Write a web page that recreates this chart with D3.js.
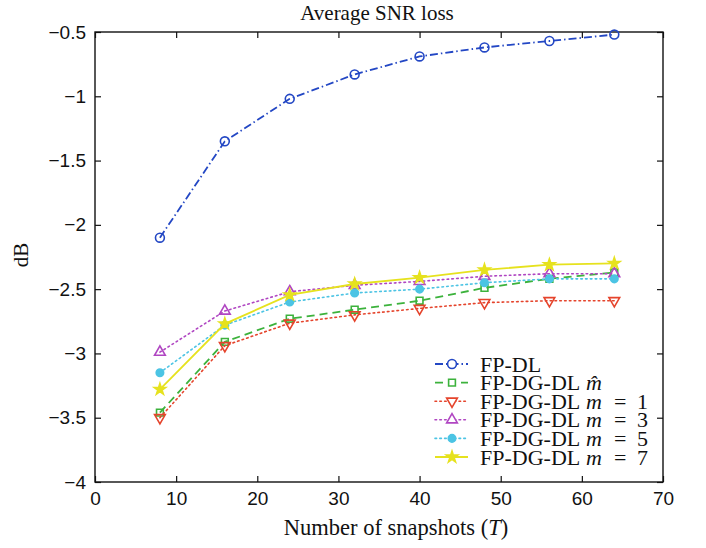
<!DOCTYPE html>
<html>
<head>
<meta charset="utf-8">
<script src="https://cdn.jsdelivr.net/npm/d3@7"></script>
<style>
  html, body { margin: 0; padding: 0; background: #fff; }
  svg { display: block; }
</style>
</head>
<body>
<svg id="chart" width="706" height="548"></svg>
<script>
// Number of snapshots T
const snapshots = [8, 16, 24, 32, 40, 48, 56, 64];

// Average SNR loss (dB) per method
const fpDL      = [-2.10, -1.35, -1.02, -0.83, -0.69, -0.62, -0.57, -0.52];
const fpDGDLhat = [-3.46, -2.91, -2.73, -2.66, -2.59, -2.49, -2.42, -2.37];
const fpDGDLm1  = [-3.50, -2.94, -2.765, -2.70, -2.65, -2.605, -2.59, -2.59];
const fpDGDLm3  = [-2.99, -2.67, -2.52, -2.47, -2.44, -2.40, -2.38, -2.38];
const fpDGDLm5  = [-3.15, -2.78, -2.60, -2.53, -2.50, -2.45, -2.42, -2.42];
const fpDGDLm7  = [-3.28, -2.77, -2.545, -2.46, -2.41, -2.35, -2.31, -2.30];

const xTicks = [0, 10, 20, 30, 40, 50, 60, 70];
const yTicks = [-4, -3.5, -3, -2.5, -2, -1.5, -1, -0.5];

const titleText = "Average SNR loss";
const xLabel = "Number of snapshots";
const xLabelVar = "T";
const yLabel = "dB";

const seriesNames = ["FP-DL", "FP-DG-DL", "FP-DG-DL", "FP-DG-DL", "FP-DG-DL", "FP-DG-DL"];
const seriesMath  = [null, "hat", "1", "3", "5", "7"];

const series = [
  { values: fpDL,      color: "#2347c4", dash: "8,3,1.5,3", width: 1.8, symbol: d3.symbolCircle,   size: 62, fill: "none", rotate: 0 },
  { values: fpDGDLhat, color: "#3cb23c", dash: "8,5",       width: 1.8, symbol: d3.symbolSquare,   size: 46, fill: "none", rotate: 0 },
  { values: fpDGDLm1,  color: "#e5442c", dash: "1.6,3.2",   width: 1.6, symbol: d3.symbolTriangle, size: 50, fill: "none", rotate: 180 },
  { values: fpDGDLm3,  color: "#b046c2", dash: "1.6,3.2",   width: 1.6, symbol: d3.symbolTriangle, size: 50, fill: "none", rotate: 0 },
  { values: fpDGDLm5,  color: "#4cc4e4", dash: "1.6,3.2",   width: 1.6, symbol: d3.symbolCircle,   size: 44, fill: "#4cc4e4", rotate: 0 },
  { values: fpDGDLm7,  color: "#e6e21e", dash: null,        width: 1.8, symbol: d3.symbolStar,     size: 40, fill: "#e6e21e", rotate: 0 }
];

const svg = d3.select("#chart");
const serif = "'Liberation Serif', 'Times New Roman', serif";
const sans = "'Liberation Sans', Arial, Helvetica, sans-serif";

const x = d3.scaleLinear().domain([0, 70]).range([95, 663]);
const y = d3.scaleLinear().domain([-4, -0.5]).range([482, 32]);

const fmt = d => String(d).replace("-", "\u2212");

// Axes with inward ticks on all four sides
const gB = svg.append("g").attr("transform", `translate(0,${y(-4)})`)
  .call(d3.axisBottom(x).tickValues(xTicks).tickFormat(fmt).tickSizeInner(-6).tickSizeOuter(0).tickPadding(10));
const gL = svg.append("g").attr("transform", `translate(${x(0)},0)`)
  .call(d3.axisLeft(y).tickValues(yTicks).tickFormat(fmt).tickSizeInner(-6).tickSizeOuter(0).tickPadding(9));
const gT = svg.append("g").attr("transform", `translate(0,${y(-0.5)})`)
  .call(d3.axisTop(x).tickValues(xTicks).tickFormat("").tickSizeInner(-6).tickSizeOuter(0));
const gR = svg.append("g").attr("transform", `translate(${x(70)},0)`)
  .call(d3.axisRight(y).tickValues(yTicks).tickFormat("").tickSizeInner(-6).tickSizeOuter(0));

[gB, gL, gT, gR].forEach(g => {
  g.select(".domain").remove();
  g.selectAll(".tick line").attr("stroke", "#111").attr("stroke-width", 1.2);
  g.selectAll(".tick text").attr("fill", "#111").style("font-family", sans).style("font-size", "19px");
});

svg.append("rect")
  .attr("x", x(0)).attr("y", y(-0.5))
  .attr("width", x(70) - x(0)).attr("height", y(-4) - y(-0.5))
  .attr("fill", "none").attr("stroke", "#111").attr("stroke-width", 1.4);

// Series lines and markers
const line = d3.line().x((d, i) => x(snapshots[i])).y(d => y(d));

series.forEach(s => {
  svg.append("path")
    .datum(s.values)
    .attr("d", line)
    .attr("fill", "none")
    .attr("stroke", s.color)
    .attr("stroke-width", s.width)
    .attr("stroke-dasharray", s.dash)
    .attr("stroke-linecap", s.dash && s.dash.startsWith("1.6") ? "round" : "butt");

  const sym = d3.symbol().type(s.symbol).size(s.size);
  svg.append("g").selectAll("path")
    .data(s.values)
    .join("path")
    .attr("d", sym)
    .attr("transform", (d, i) => `translate(${x(snapshots[i])},${y(d)}) rotate(${s.rotate})`)
    .attr("fill", s.fill)
    .attr("stroke", s.color)
    .attr("stroke-width", 1.6);
});

// Title and axis labels
svg.append("text")
  .attr("x", 377).attr("y", 20)
  .attr("text-anchor", "middle")
  .style("font-family", serif).style("font-size", "21px").attr("fill", "#111")
  .text(titleText);

const xl = svg.append("text")
  .attr("x", 396).attr("y", 535)
  .attr("text-anchor", "middle")
  .style("font-family", serif).style("font-size", "22.5px").attr("fill", "#111");
xl.append("tspan").text(xLabel + " (");
xl.append("tspan").style("font-style", "italic").text(xLabelVar);
xl.append("tspan").text(")");

svg.append("text")
  .attr("transform", "translate(28,255) rotate(-90)")
  .attr("text-anchor", "middle")
  .style("font-family", serif).style("font-size", "21px").attr("fill", "#111")
  .text(yLabel);

// Legend
const legX = 435, legY = 364, legStep = 18.6, textX = 480;
series.forEach((s, i) => {
  const yy = legY + i * legStep;
  svg.append("line")
    .attr("x1", legX).attr("x2", legX + 33).attr("y1", yy).attr("y2", yy)
    .attr("stroke", s.color).attr("stroke-width", s.width)
    .attr("stroke-dasharray", s.dash)
    .attr("stroke-linecap", s.dash && s.dash.startsWith("1.6") ? "round" : "butt");
  svg.append("path")
    .attr("d", d3.symbol().type(s.symbol).size(s.size)())
    .attr("transform", `translate(${legX + 17},${yy}) rotate(${s.rotate})`)
    .attr("fill", s.fill === "none" ? "#fff" : s.fill)
    .attr("stroke", s.color).attr("stroke-width", 1.6);

  const t = svg.append("text")
    .attr("x", textX).attr("y", yy + 7.5)
    .style("font-family", serif).style("font-size", "22px").attr("fill", "#111");
  t.append("tspan").text(seriesNames[i]);
  const m = seriesMath[i];
  if (m === "hat") {
    t.append("tspan").attr("x", textX + 106).style("font-style", "italic").text("m\u0302");
  } else if (m) {
    t.append("tspan").attr("x", textX + 106).style("font-style", "italic").text("m");
    t.append("tspan").attr("x", textX + 134).text("=");
    t.append("tspan").attr("x", textX + 157).text(m);
  }
});
</script>
</body>
</html>
